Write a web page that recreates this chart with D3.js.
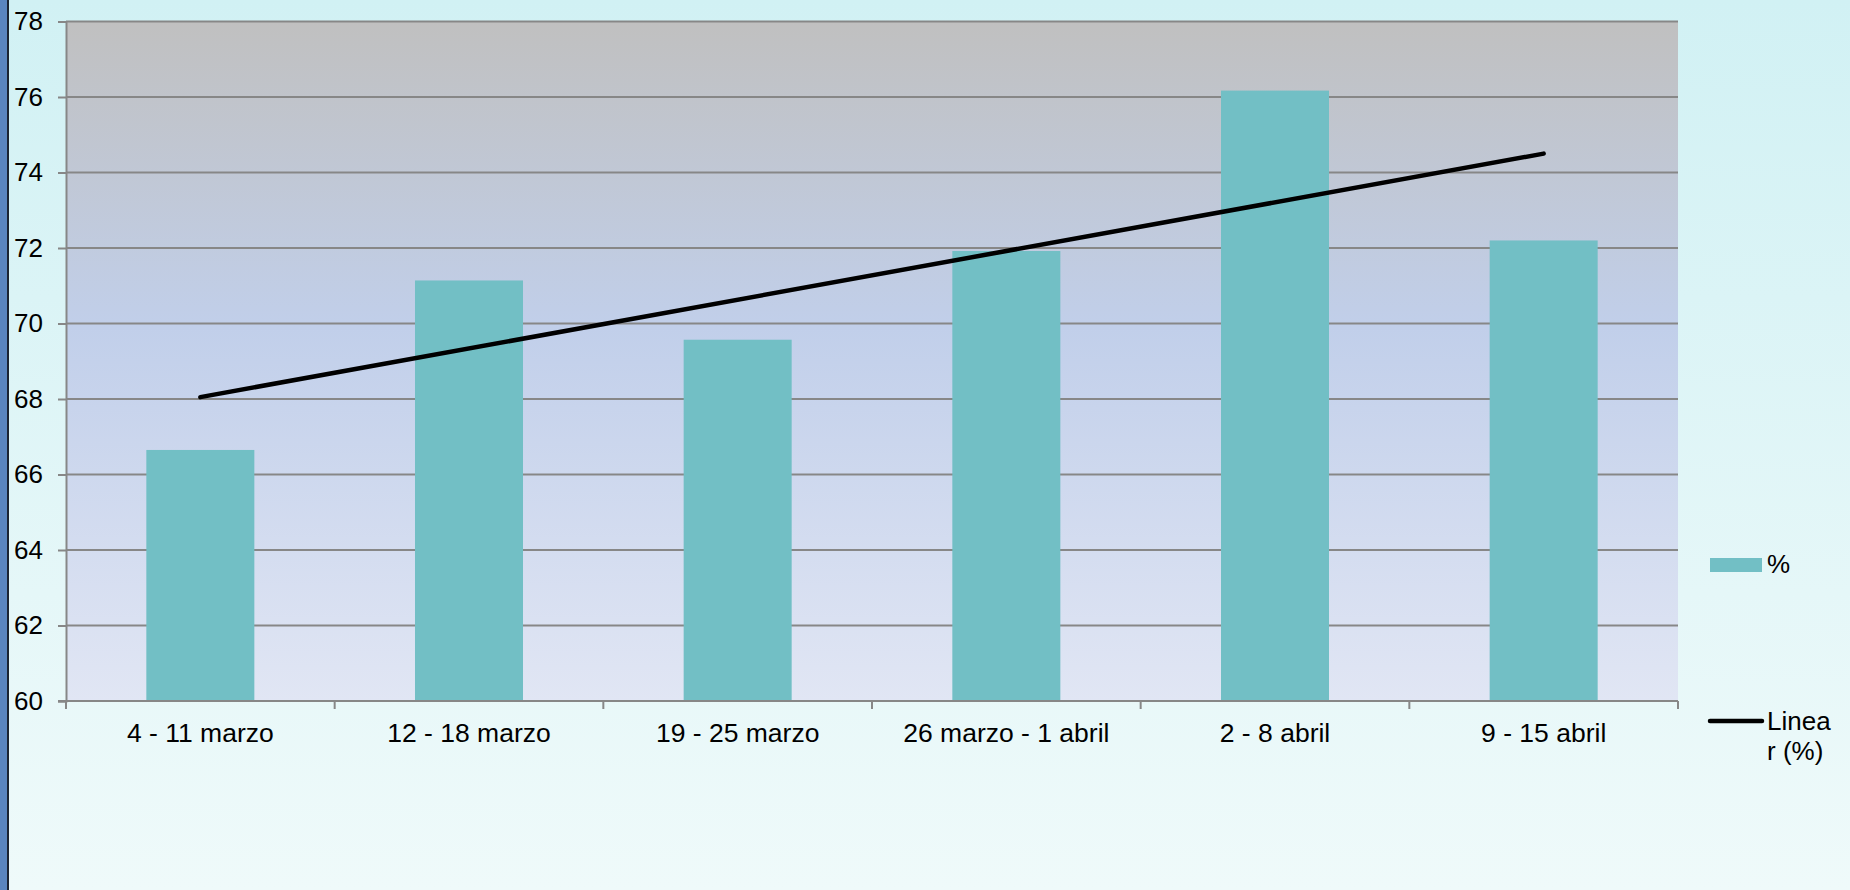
<!DOCTYPE html>
<html>
<head>
<meta charset="utf-8">
<script src="https://cdn.jsdelivr.net/npm/d3@7"></script>
<style>
  html, body { margin: 0; padding: 0; }
  body { width: 1850px; height: 890px; overflow: hidden; }
  svg { display: block; font-family: "Liberation Sans", Arial, sans-serif; }
</style>
</head>
<body>
<svg id="chart" width="1850" height="890"></svg>
<script>
// ---- data ----
const categories = ["4 - 11 marzo", "12 - 18 marzo", "19 - 25 marzo", "26 marzo - 1 abril", "2 - 8 abril", "9 - 15 abril"];
const values = [66.65, 71.14, 69.57, 71.92, 76.17, 72.2];
const trendCategories = ["4 - 11 marzo", "9 - 15 abril"];
const trendValues = [68.05, 74.5];
const yTicks = [60, 62, 64, 66, 68, 70, 72, 74, 76, 78];
const seriesName = "%";
const trendNameLines = ["Linea", "r (%)"];

// ---- layout ----
const W = 1850, H = 890;
const plot = { left: 66, right: 1678, top: 21.5, bottom: 701 };
const svg = d3.select("#chart");
const defs = svg.append("defs");

const bgGrad = defs.append("linearGradient").attr("id", "bgGrad")
  .attr("x1", 0).attr("y1", 0).attr("x2", 0).attr("y2", 1);
bgGrad.append("stop").attr("offset", "0%").attr("stop-color", "#d1f1f4");
bgGrad.append("stop").attr("offset", "100%").attr("stop-color", "#effafa");

const plotGrad = defs.append("linearGradient").attr("id", "plotGrad")
  .attr("x1", 0).attr("y1", 0).attr("x2", 0).attr("y2", 1);
plotGrad.append("stop").attr("offset", "0%").attr("stop-color", "#c0c0c0");
plotGrad.append("stop").attr("offset", "45%").attr("stop-color", "#c1cfea");
plotGrad.append("stop").attr("offset", "100%").attr("stop-color", "#e1e6f4");

// outer background
svg.append("rect").attr("x", 0).attr("y", 0).attr("width", W).attr("height", H).attr("fill", "url(#bgGrad)");
// left blue band
svg.append("rect").attr("x", 0).attr("y", 0).attr("width", 7).attr("height", H).attr("fill", "#5a85bf");
svg.append("rect").attr("x", 7).attr("y", 0).attr("width", 2).attr("height", H).attr("fill", "#1b2433");

// scales
const x = d3.scaleBand().domain(categories).range([plot.left, plot.right]).padding(0);
const y = d3.scaleLinear().domain([60, 78]).range([plot.bottom, plot.top]);

// plot background
svg.append("rect")
  .attr("x", plot.left).attr("y", plot.top)
  .attr("width", plot.right - plot.left).attr("height", plot.bottom - plot.top)
  .attr("fill", "url(#plotGrad)");

// gridlines
svg.append("g").selectAll("line").data(yTicks).join("line")
  .attr("x1", plot.left).attr("x2", plot.right)
  .attr("y1", d => y(d)).attr("y2", d => y(d))
  .attr("stroke", "#878787").attr("stroke-width", 2);

// bars
const barW = x.bandwidth() * 0.402;
svg.append("g").selectAll("rect").data(values).join("rect")
  .attr("x", (d, i) => x(categories[i]) + (x.bandwidth() - barW) / 2)
  .attr("y", d => y(d))
  .attr("width", barW)
  .attr("height", d => y(60) - y(d))
  .attr("fill", "#72bfc5");

// y axis
const yAxis = d3.axisLeft(y).tickValues(yTicks).tickSize(8).tickPadding(15).tickFormat(d3.format("d"));
const gy = svg.append("g").attr("transform", `translate(${plot.left},0)`).call(yAxis);
gy.select(".domain").attr("stroke", "#878787").attr("stroke-width", 2);
gy.selectAll(".tick line").attr("stroke", "#878787").attr("stroke-width", 2);
gy.selectAll(".tick text").attr("font-size", 26).attr("fill", "#000")
  .attr("font-family", "Liberation Sans, Arial, sans-serif").attr("x", -23);

// x axis
const xAxis = d3.axisBottom(x).tickSize(0).tickPadding(0);
const gx = svg.append("g").attr("transform", `translate(0,${plot.bottom})`).call(xAxis);
gx.select(".domain").remove();
gx.selectAll(".tick text").attr("font-size", 26.5).attr("fill", "#000")
  .attr("font-family", "Liberation Sans, Arial, sans-serif")
  .attr("dy", null).attr("y", 41);
// category boundary ticks
const boundaries = categories.map(c => x(c)).concat([x(categories[categories.length - 1]) + x.bandwidth()]);
svg.append("g").selectAll("line").data(boundaries).join("line")
  .attr("x1", d => d).attr("x2", d => d)
  .attr("y1", plot.bottom).attr("y2", plot.bottom + 8)
  .attr("stroke", "#878787").attr("stroke-width", 2);
// bottom axis line
svg.append("line").attr("x1", plot.left - 8).attr("x2", plot.right)
  .attr("y1", plot.bottom).attr("y2", plot.bottom)
  .attr("stroke", "#878787").attr("stroke-width", 2);

// trend line
const line = d3.line().x(d => x(d[0]) + x.bandwidth() / 2).y(d => y(d[1]));
svg.append("path")
  .datum(trendCategories.map((c, i) => [c, trendValues[i]]))
  .attr("d", line)
  .attr("fill", "none").attr("stroke", "#000").attr("stroke-width", 4.5).attr("stroke-linecap", "round");

// legend
const lg = svg.append("g");
lg.append("rect").attr("x", 1710).attr("y", 558).attr("width", 52).attr("height", 14).attr("fill", "#72bfc5");
lg.append("text").attr("x", 1767).attr("y", 573).attr("font-size", 26).attr("fill", "#000").text(seriesName);
lg.append("line").attr("x1", 1710).attr("x2", 1762).attr("y1", 721).attr("y2", 721)
  .attr("stroke", "#000").attr("stroke-width", 4.5).attr("stroke-linecap", "round");
lg.append("text").attr("x", 1767).attr("y", 730).attr("font-size", 26).attr("fill", "#000")
  .selectAll("tspan").data(trendNameLines).join("tspan")
  .attr("x", 1767).attr("dy", (d, i) => i === 0 ? 0 : 30).text(d => d);
</script>
</body>
</html>
